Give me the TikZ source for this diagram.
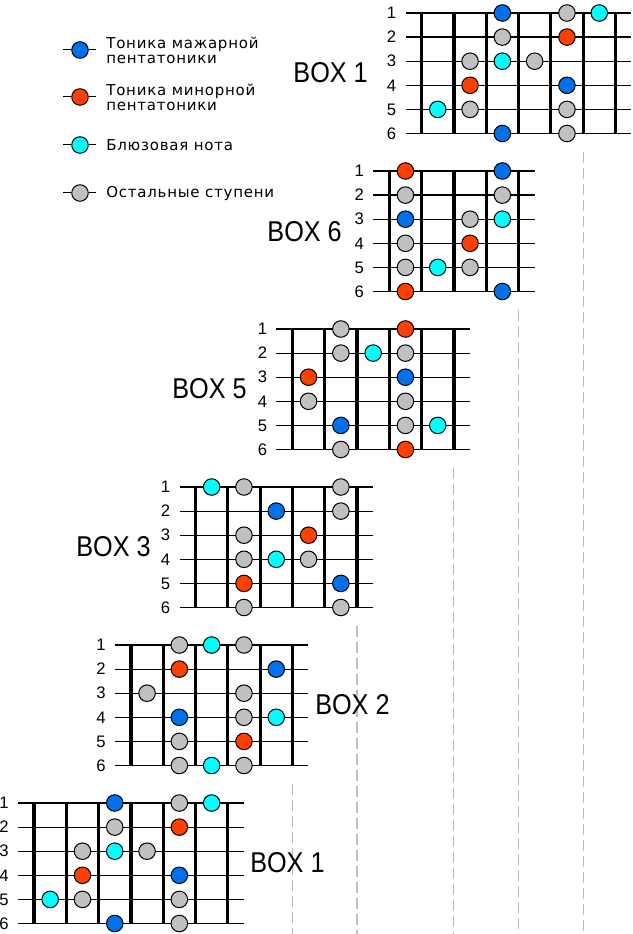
\documentclass[tikz,border=0pt]{standalone}
\usepackage{fontspec}
\setmainfont{Liberation Sans}
\newfontfamily\legendfont[LetterSpace=5]{DejaVu Sans}
\usetikzlibrary{positioning}

\definecolor{majcol}{RGB}{0,112,235}
\definecolor{mincol}{RGB}{255,64,0}
\definecolor{bluecol}{RGB}{0,255,255}
\definecolor{restcol}{RGB}{192,192,192}
\definecolor{guidecol}{RGB}{190,190,190}

\tikzset{
  strline/.style={line width=0.9pt},
  fretline/.style={line width=2.4pt},
  guide/.style={guidecol,line width=0.8pt,dash pattern=on 8pt off 4pt},
  note/.style={circle,draw,line width=0.75pt,inner sep=0pt,minimum size=12.4pt},
  tmaj/.style={fill=majcol},
  tmin/.style={fill=mincol},
  tblue/.style={fill=bluecol},
  trest/.style={fill=restcol},
  strnum/.style={font=\fontsize{12.5}{13}\selectfont,inner sep=0pt},
  boxname/.style={font=\fontsize{21.5}{24}\selectfont,inner sep=0pt},
  legtext/.style={font=\legendfont\fontsize{11.25}{11.25}\selectfont,align=left,inner sep=0pt},
}

\newcommand{\boxlabel}[1]{\scalebox{0.88}[1]{#1}}

% strings, frets, numbers: name, x of first fret, y of string 1, frets
\newcommand{\fretboard}[4]{%
  \foreach \s in {1,...,6}{
    \coordinate (#1-l\s) at ({#2-16},{#3+24.1*(\s-1)});
    \coordinate (#1-r\s) at ({#2+32.3*(#4-1)+16},{#3+24.1*(\s-1)});
    \draw[strline] (#1-l\s) -- (#1-r\s);
    \node[strnum] (#1-n\s) at ({#2-30},{#3+24.1*(\s-1)}) {\s};
  }
  \foreach \f in {1,...,#4}{
    \draw[fretline] ({#2+32.3*(\f-1)},#3) -- ++(0,120.5);
  }
}
% dots: name, x of first fret, y of string 1, string/cell/kind
\newcommand{\fretnotes}[4]{%
  \foreach \s/\c/\kind in {#4}
    \node[note,\kind] (#1-\s-\c) at ({#2+32.3*(\c+0.5)},{#3+24.1*(\s-1)}) {};
}

\begin{document}
\begin{tikzpicture}[x=0.75pt,y=-0.75pt]
\useasboundingbox (0,0) rectangle (632,934);

% guides
\draw[guide] (583.1,152) -- (583.1,934);
\draw[guide] (518.5,310) -- (518.5,934);
\draw[guide] (453.9,468) -- (453.9,934);
\draw[guide] (357,626) -- (357,934);
\draw[guide] (292.4,784) -- (292.4,934);

% legend
\node[note,tmaj] (leg1) at (80,50) {};
\node[note,tmin] (leg2) at (80,97) {};
\node[note,tblue] (leg3) at (80,145) {};
\node[note,trest] (leg4) at (80,193) {};
\foreach \n in {1,...,4}{
  \draw[line width=0.75pt] (leg\n.west) -- ++(-8,0);
  \draw[line width=0.75pt] (leg\n.east) -- ++(7,0);
}
\node[legtext,right=13pt of leg1] (leg1t) {Тоника мажарной\\пентатоники};
\node[legtext,right=13pt of leg2] (leg2t) {Тоника минорной\\пентатоники};
\node[legtext,right=13pt of leg3] (leg3t) {Блюзовая нота};
\node[legtext,right=13pt of leg4] (leg4t) {Остальные ступени};

% BOX 1 (top)
\fretboard{boxa}{421.6}{13}{7}
\fretnotes{boxa}{421.6}{13}{1/2/tmaj,1/4/trest,1/5/tblue,2/2/trest,2/4/tmin,
  3/1/trest,3/2/tblue,3/3/trest,4/1/tmin,4/4/tmaj,
  5/0/tblue,5/1/trest,5/4/trest,6/2/tmaj,6/4/trest}
\node[boxname,anchor=east] (boxa-t) at (368,73) {\boxlabel{BOX 1}};

% BOX 6
\fretboard{boxf}{389.3}{171}{5}
\fretnotes{boxf}{389.3}{171}{1/0/tmin,1/3/tmaj,2/0/trest,2/3/trest,
  3/0/tmaj,3/2/trest,3/3/tblue,4/0/trest,4/2/tmin,
  5/0/trest,5/1/tblue,5/2/trest,6/0/tmin,6/3/tmaj}
\node[boxname,anchor=east] (boxf-t) at (342,231.5) {\boxlabel{BOX 6}};

% BOX 5
\fretboard{boxe}{292.4}{329}{6}
\fretnotes{boxe}{292.4}{329}{1/1/trest,1/3/tmin,2/1/trest,2/2/tblue,2/3/trest,
  3/0/tmin,3/3/tmaj,4/0/trest,4/3/trest,
  5/1/tmaj,5/3/trest,5/4/tblue,6/1/trest,6/3/tmin}
\node[boxname,anchor=east] (boxe-t) at (247,389) {\boxlabel{BOX 5}};

% BOX 3
\fretboard{boxc}{195.5}{487}{6}
\fretnotes{boxc}{195.5}{487}{1/0/tblue,1/1/trest,1/4/trest,2/2/tmaj,2/4/trest,
  3/1/trest,3/3/tmin,4/1/trest,4/2/tblue,4/3/trest,
  5/1/tmin,5/4/tmaj,6/1/trest,6/4/trest}
\node[boxname,anchor=east] (boxc-t) at (151,547) {\boxlabel{BOX 3}};

% BOX 2
\fretboard{boxb}{130.9}{645}{6}
\fretnotes{boxb}{130.9}{645}{1/1/trest,1/2/tblue,1/3/trest,2/1/tmin,2/4/tmaj,
  3/0/trest,3/3/trest,4/1/tmaj,4/3/trest,4/4/tblue,
  5/1/trest,5/3/tmin,6/1/trest,6/2/tblue,6/3/trest}
\node[boxname,anchor=west] (boxb-t) at (315,705) {\boxlabel{BOX 2}};

% BOX 1 (bottom)
\fretboard{boxz}{34}{803}{7}
\fretnotes{boxz}{34}{803}{1/2/tmaj,1/4/trest,1/5/tblue,2/2/trest,2/4/tmin,
  3/1/trest,3/2/tblue,3/3/trest,4/1/tmin,4/4/tmaj,
  5/0/tblue,5/1/trest,5/4/trest,6/2/tmaj,6/4/trest}
\node[boxname,anchor=west] (boxz-t) at (250,863) {\boxlabel{BOX 1}};
\end{tikzpicture}
\end{document}
